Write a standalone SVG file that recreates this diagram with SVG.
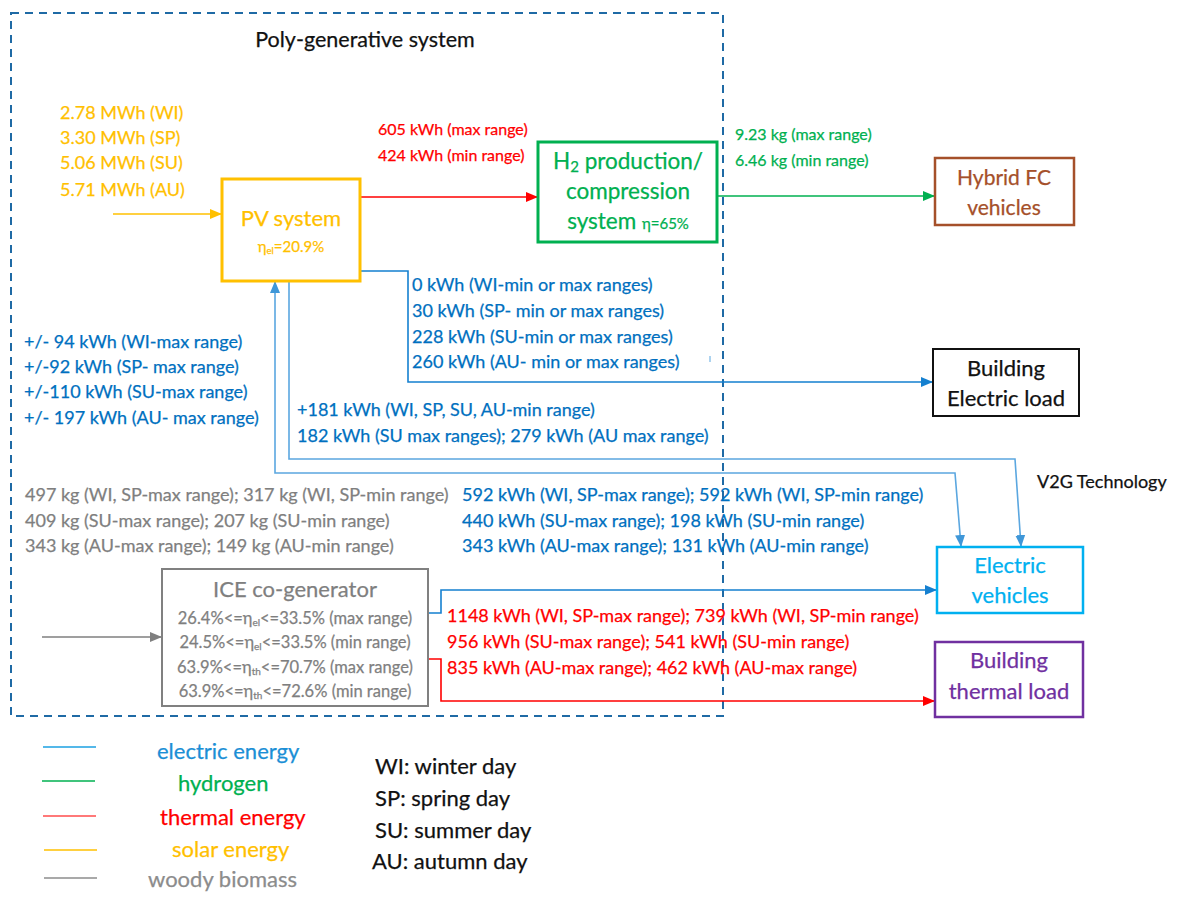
<svg xmlns="http://www.w3.org/2000/svg" width="1177" height="899" viewBox="0 0 1177 899">
<style>
text{font-family:Lato,"Liberation Sans",sans-serif;stroke-width:0.25}
.lbl{font-size:18px}
.sm{font-size:16px}
.node{font-size:22px}
.lg{font-size:22px}
.gold{fill:#ffc000;stroke:#ffc000}.red{fill:#ff0000;stroke:#ff0000}.green{fill:#00b050;stroke:#00b050}.blue{fill:#0070c0;stroke:#0070c0}.gray{fill:#7f7f7f;stroke:#7f7f7f}.blk{fill:#111;stroke:#111}
.c{text-anchor:middle}
.ln{fill:none;stroke-width:1.6}
</style>
<defs>
<marker id="aGold" markerUnits="userSpaceOnUse" markerWidth="12" markerHeight="12" refX="11" refY="6" orient="auto"><path d="M0,1 L12,6 L0,11 Z" fill="#ffc000"/></marker>
<marker id="aRed" markerUnits="userSpaceOnUse" markerWidth="12" markerHeight="12" refX="11" refY="6" orient="auto"><path d="M0,1 L12,6 L0,11 Z" fill="#ff0000"/></marker>
<marker id="aGreen" markerUnits="userSpaceOnUse" markerWidth="12" markerHeight="12" refX="11" refY="6" orient="auto"><path d="M0,1 L12,6 L0,11 Z" fill="#00b050"/></marker>
<marker id="aBlue" markerUnits="userSpaceOnUse" markerWidth="12" markerHeight="12" refX="11" refY="6" orient="auto"><path d="M0,1 L12,6 L0,11 Z" fill="#1580d0"/></marker>
<marker id="aLBlue" markerUnits="userSpaceOnUse" markerWidth="12" markerHeight="12" refX="11" refY="6" orient="auto-start-reverse"><path d="M0,1 L12,6 L0,11 Z" fill="#3f97d8"/></marker>
<marker id="aGray" markerUnits="userSpaceOnUse" markerWidth="12" markerHeight="12" refX="11" refY="6" orient="auto"><path d="M0,1 L12,6 L0,11 Z" fill="#7f7f7f"/></marker>
</defs>

<g id="system-boundary">
<rect x="11" y="13" width="712" height="703" fill="none" stroke="#1f6aa5" stroke-width="2" stroke-dasharray="8 6"/>
<text x="365" y="47" class="c blk" font-size="21.5">Poly-generative system</text>
</g>

<g id="connectors">
<path class="ln" d="M113,214 H221" stroke="#ffc000" marker-end="url(#aGold)"/>
<path class="ln" d="M360,197 H537" stroke="#ff0000" marker-end="url(#aRed)"/>
<path class="ln" d="M717,196 H934" stroke="#00b050" marker-end="url(#aGreen)"/>
<path class="ln" d="M360,271 H408 V382 H932" stroke="#1580d0" marker-end="url(#aBlue)"/>
<path class="ln" d="M289,281 V459 H1015 L1021,546" stroke="#5ba7e0" marker-end="url(#aLBlue)"/>
<path class="ln" d="M275,282 V473 H955 L961,546" stroke="#5ba7e0" marker-start="url(#aLBlue)" marker-end="url(#aLBlue)"/>
<path class="ln" d="M428,613 H441 V590 H936" stroke="#1580d0" marker-end="url(#aBlue)"/>
<path class="ln" d="M428,659 H441 V701 H934" stroke="#ff0000" marker-end="url(#aRed)"/>
<path class="ln" d="M42,637 H161" stroke="#7f7f7f" marker-end="url(#aGray)"/>
<path d="M710,356 V362" stroke="#5ba7e0" stroke-width="1"/>
</g>

<g id="labels">
<text class="lbl gold" x="60" y="119">2.78 MWh (WI)</text>
<text class="lbl gold" x="60" y="144">3.30 MWh (SP)</text>
<text class="lbl gold" x="60" y="169">5.06 MWh (SU)</text>
<text class="lbl gold" x="60" y="196">5.71 MWh (AU)</text>
<text class="sm red" x="378" y="135">605 kWh (max range)</text>
<text class="sm red" x="378" y="161">424 kWh (min range)</text>
<text class="sm green" x="735" y="140">9.23 kg (max range)</text>
<text class="sm green" x="735" y="166">6.46 kg (min range)</text>
<text class="lbl blue" x="412" y="291">0 kWh (WI-min or max ranges)</text>
<text class="lbl blue" x="412" y="317">30 kWh (SP- min or max ranges)</text>
<text class="lbl blue" x="412" y="343">228 kWh (SU-min or max ranges)</text>
<text class="lbl blue" x="412" y="368">260 kWh (AU- min or max ranges)</text>
<text class="lbl blue" x="24" y="348">+/- 94 kWh (WI-max range)</text>
<text class="lbl blue" x="24" y="373">+/-92 kWh (SP- max range)</text>
<text class="lbl blue" x="24" y="398">+/-110 kWh (SU-max range)</text>
<text class="lbl blue" x="24" y="424">+/- 197 kWh (AU- max range)</text>
<text class="lbl blue" x="297" y="416">+181 kWh (WI, SP, SU, AU-min range)</text>
<text class="lbl blue" x="297" y="442">182 kWh (SU max ranges); 279 kWh (AU max range)</text>
<text class="lbl gray" x="25" y="501">497 kg (WI, SP-max range); 317 kg (WI, SP-min range)</text>
<text class="lbl gray" x="25" y="527">409 kg (SU-max range); 207 kg (SU-min range)</text>
<text class="lbl gray" x="25" y="552">343 kg (AU-max range); 149 kg (AU-min range)</text>
<text class="lbl blue" x="462" y="501">592 kWh (WI, SP-max range); 592 kWh (WI, SP-min range)</text>
<text class="lbl blue" x="462" y="527">440 kWh (SU-max range); 198 kWh (SU-min range)</text>
<text class="lbl blue" x="462" y="552">343 kWh (AU-max range); 131 kWh (AU-min range)</text>
<text class="lbl red" x="447" y="622">1148 kWh (WI, SP-max range); 739 kWh (WI, SP-min range)</text>
<text class="lbl red" x="447" y="648">956 kWh (SU-max range); 541 kWh (SU-min range)</text>
<text class="lbl red" x="447" y="674">835 kWh (AU-max range); 462 kWh (AU-max range)</text>
<text class="blk" x="1037" y="488" font-size="18">V2G Technology</text>
</g>

<g id="pv-system">
<rect x="222" y="179" width="138" height="102" fill="#fff" stroke="#ffc000" stroke-width="3"/>
<text class="c gold" x="291" y="226" font-size="22">PV system</text>
<text class="c gold" x="291" y="252" font-size="15">η<tspan font-size="9.5" dy="2">el</tspan><tspan dy="-2">=20.9%</tspan></text>
</g>

<g id="h2-system">
<rect x="538" y="142" width="179" height="100" fill="#fff" stroke="#00b050" stroke-width="3"/>
<text class="c green" font-size="22.5" x="628" y="169">H<tspan font-size="15" dy="3">2</tspan><tspan dy="-3"> production/</tspan></text>
<text class="c green" font-size="22.5" x="628" y="199">compression</text>
<text class="c green" font-size="22.5" x="628" y="229">system <tspan font-size="15">η=65%</tspan></text>
</g>

<g id="hybrid-fc">
<rect x="935" y="158" width="139" height="67" fill="#fff" stroke="#a5502a" stroke-width="2.5"/>
<text class="c" font-size="21" fill="#a5502a" stroke="#a5502a" x="1004" y="185">Hybrid FC</text>
<text class="c" font-size="21" fill="#a5502a" stroke="#a5502a" x="1004" y="215">vehicles</text>
</g>

<g id="building-electric">
<rect x="933" y="349" width="146" height="67" fill="#fff" stroke="#111" stroke-width="2"/>
<text class="c node blk" x="1006" y="376">Building</text>
<text class="c node blk" x="1006" y="406">Electric load</text>
</g>

<g id="electric-vehicles">
<rect x="937" y="547" width="146" height="66" fill="#fff" stroke="#00b0f0" stroke-width="2.5"/>
<text class="c node" fill="#00b0f0" stroke="#00b0f0" x="1010" y="573">Electric</text>
<text class="c node" fill="#00b0f0" stroke="#00b0f0" x="1010" y="603">vehicles</text>
</g>

<g id="building-thermal">
<rect x="935" y="642" width="148" height="75" fill="#fff" stroke="#7030a0" stroke-width="2.5"/>
<text class="c node" fill="#7030a0" stroke="#7030a0" x="1009" y="668">Building</text>
<text class="c node" fill="#7030a0" stroke="#7030a0" x="1009" y="699">thermal load</text>
</g>

<g id="ice-cogenerator">
<rect x="162" y="569" width="266" height="137" fill="#fff" stroke="#808080" stroke-width="2"/>
<text class="c gray" x="295" y="597" font-size="22">ICE co-generator</text>
<text class="c gray" x="295" y="624" font-size="16.5">26.4%&lt;=η<tspan font-size="10" dy="2">el</tspan><tspan dy="-2">&lt;=33.5% (max range)</tspan></text>
<text class="c gray" x="295" y="648" font-size="16.5">24.5%&lt;=η<tspan font-size="10" dy="2">el</tspan><tspan dy="-2">&lt;=33.5% (min range)</tspan></text>
<text class="c gray" x="295" y="673" font-size="16.5">63.9%&lt;=η<tspan font-size="10" dy="2">th</tspan><tspan dy="-2">&lt;=70.7% (max range)</tspan></text>
<text class="c gray" x="295" y="697" font-size="16.5">63.9%&lt;=η<tspan font-size="10" dy="2">th</tspan><tspan dy="-2">&lt;=72.6% (min range)</tspan></text>
</g>

<g id="legend">
<line x1="43" y1="747" x2="96" y2="747" stroke="#1ba1e2" stroke-width="1.6"/>
<line x1="42" y1="781" x2="95" y2="781" stroke="#00b050" stroke-width="1.6"/>
<line x1="43" y1="816" x2="96" y2="816" stroke="#ff4d4d" stroke-width="1.6"/>
<line x1="44" y1="850" x2="97" y2="850" stroke="#ffc000" stroke-width="1.6"/>
<line x1="44" y1="878" x2="97" y2="878" stroke="#8c8c8c" stroke-width="1.6"/>
<text x="157" y="759" class="lg" fill="#1b8fd6" stroke="#1b8fd6">electric energy</text>
<text x="178" y="791" class="lg green">hydrogen</text>
<text x="160" y="825" class="lg red">thermal energy</text>
<text x="172" y="857" class="lg gold">solar energy</text>
<text x="148" y="887" class="lg" fill="#8c8c8c" stroke="#8c8c8c">woody biomass</text>
<text x="375" y="774" class="lg blk">WI: winter day</text>
<text x="375" y="806" class="lg blk">SP: spring day</text>
<text x="375" y="838" class="lg blk">SU: summer day</text>
<text x="372" y="869" class="lg blk">AU: autumn day</text>
</g>
</svg>
